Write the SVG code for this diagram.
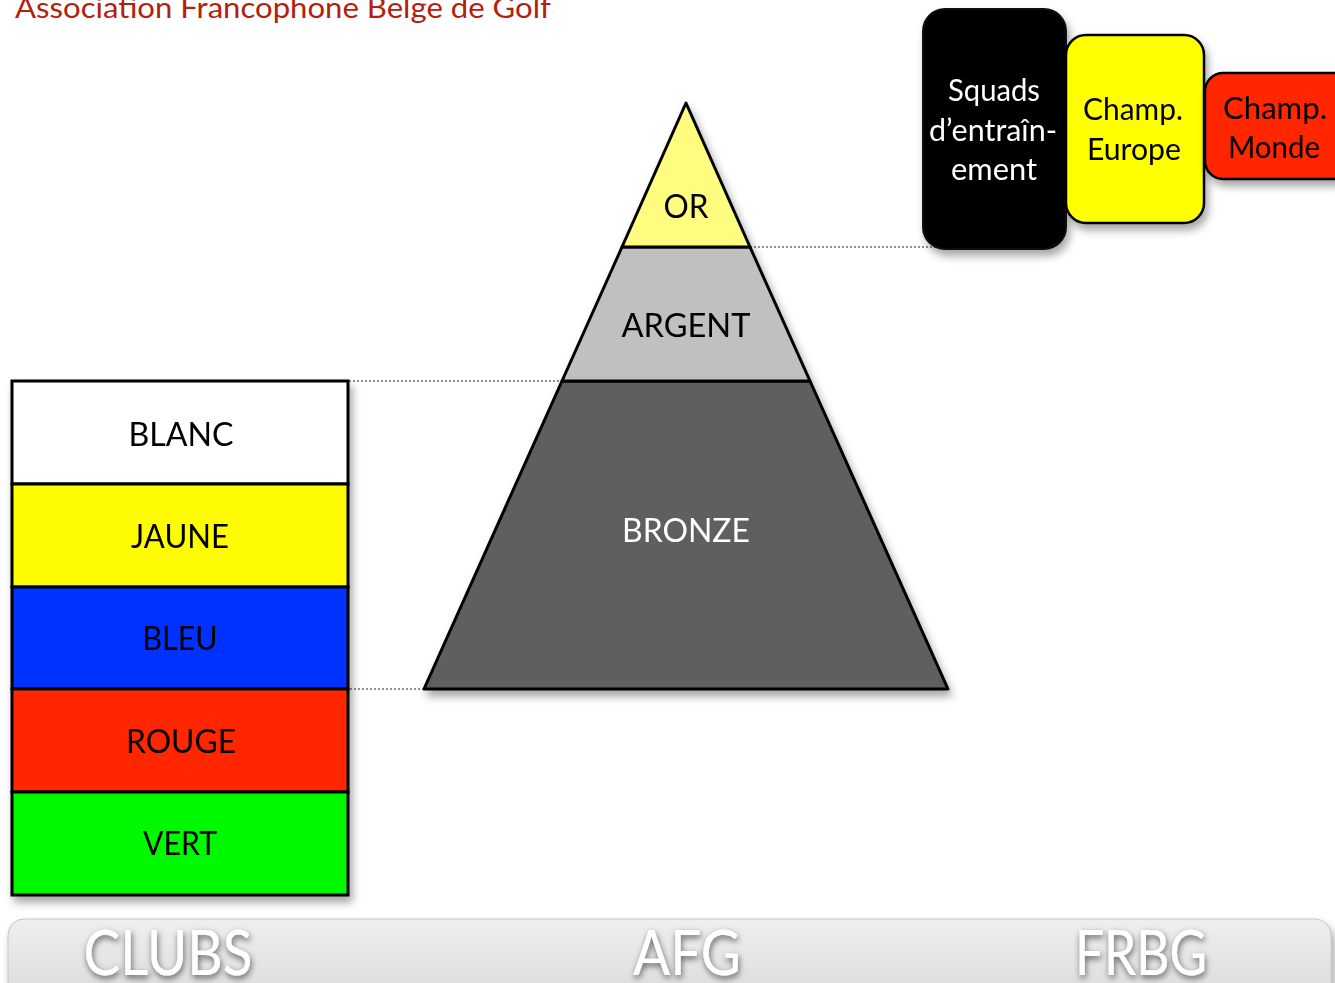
<svg xmlns="http://www.w3.org/2000/svg" width="1335" height="983" viewBox="0 0 1335 983">
<defs>
<style>
text{font-family:Lato,"Open Sans","Liberation Sans",sans-serif;}
.lbl{font-size:32px;fill:#000;text-anchor:middle;}
.wlbl{font-size:32px;fill:#fff;text-anchor:middle;}
.box{font-size:30px;text-anchor:middle;}
.band{stroke:#000;stroke-width:3;}
.dot{stroke:#222;stroke-width:1.2;stroke-dasharray:2 2;fill:none;}
.bar{font-size:62px;fill:#fff;text-anchor:middle;filter:url(#tsh);}
</style>
<filter id="sh" x="-20%" y="-20%" width="140%" height="140%">
<feDropShadow dx="3" dy="6" stdDeviation="4" flood-color="#000" flood-opacity="0.35"/>
</filter>
<filter id="tsh" x="-20%" y="-30%" width="140%" height="160%">
<feDropShadow dx="1" dy="3" stdDeviation="3" flood-color="#000" flood-opacity="0.6"/>
</filter>
<linearGradient id="barg" x1="0" y1="0" x2="0" y2="1">
<stop offset="0" stop-color="#efefef"/>
<stop offset="1" stop-color="#d6d6d6"/>
</linearGradient>
</defs>
<rect width="1335" height="983" fill="#fff"/>

<g id="title">
<text x="15" y="18" font-size="29" fill="#b3200e" textLength="536" lengthAdjust="spacingAndGlyphs">Association Francophone Belge de Golf</text>
</g>

<g id="connectors">
<line class="dot" x1="750" y1="247" x2="936" y2="247"/>
<line class="dot" x1="329" y1="381" x2="563" y2="381"/>
<line class="dot" x1="350" y1="689" x2="424" y2="689"/>
</g>

<g id="pyramid" filter="url(#sh)">
<g id="bronze">
<polygon class="band" points="562,381 810,381 948,689 424,689" fill="#5e5e5e" stroke-linejoin="round"/>
<text class="wlbl" x="686" y="542" textLength="128" lengthAdjust="spacingAndGlyphs">BRONZE</text>
</g>
<g id="argent">
<polygon class="band" points="622,247 750,247 810,381 562,381" fill="#c0c0c0" stroke-linejoin="round"/>
<text class="lbl" x="686" y="337" textLength="129" lengthAdjust="spacingAndGlyphs">ARGENT</text>
</g>
<g id="or">
<polygon class="band" points="686,103 750,247 622,247" fill="#fefd7f" stroke-linejoin="round"/>
<text class="lbl" x="686" y="218" textLength="45" lengthAdjust="spacingAndGlyphs">OR</text>
</g>
</g>

<g id="clubs-stack" filter="url(#sh)">
<g id="blanc">
<rect class="band" x="12" y="381" width="336" height="103" fill="#ffffff"/>
<text class="lbl" x="181" y="446" textLength="105" lengthAdjust="spacingAndGlyphs">BLANC</text>
</g>
<g id="jaune">
<rect class="band" x="12" y="484" width="336" height="103" fill="#fffb00"/>
<text class="lbl" x="180" y="548" textLength="98" lengthAdjust="spacingAndGlyphs">JAUNE</text>
</g>
<g id="bleu">
<rect class="band" x="12" y="587" width="336" height="102" fill="#0433ff"/>
<text class="lbl" x="180" y="650" textLength="75" lengthAdjust="spacingAndGlyphs">BLEU</text>
</g>
<g id="rouge">
<rect class="band" x="12" y="689" width="336" height="103" fill="#ff2600"/>
<text class="lbl" x="181" y="753" textLength="110" lengthAdjust="spacingAndGlyphs">ROUGE</text>
</g>
<g id="vert">
<rect class="band" x="12" y="792" width="336" height="103" fill="#00f900"/>
<text class="lbl" x="180" y="855" textLength="74" lengthAdjust="spacingAndGlyphs">VERT</text>
</g>
</g>

<g id="squads" filter="url(#sh)">
<rect x="923" y="9" width="143" height="240" rx="22" fill="#000" stroke="#111" stroke-width="2"/>
<text class="box" fill="#fff" x="994" y="101" textLength="92" lengthAdjust="spacingAndGlyphs">Squads</text>
<text class="box" fill="#fff" x="993" y="141" textLength="128" lengthAdjust="spacingAndGlyphs">d’entraîn-</text>
<text class="box" fill="#fff" x="994" y="180" textLength="86" lengthAdjust="spacingAndGlyphs">ement</text>
</g>

<g id="champ-europe" filter="url(#sh)">
<rect x="1066" y="35" width="138" height="188" rx="20" fill="#ffff00" stroke="#000" stroke-width="2.5"/>
<text class="box" fill="#000" x="1133" y="120" textLength="100" lengthAdjust="spacingAndGlyphs">Champ.</text>
<text class="box" fill="#000" x="1134" y="160" textLength="94" lengthAdjust="spacingAndGlyphs">Europe</text>
</g>

<g id="champ-monde" filter="url(#sh)">
<rect x="1205" y="73" width="150" height="106" rx="18" fill="#ff2600" stroke="#000" stroke-width="2.5"/>
<text class="box" fill="#000" x="1275" y="119" textLength="104" lengthAdjust="spacingAndGlyphs">Champ.</text>
<text class="box" fill="#000" x="1274" y="158" textLength="92" lengthAdjust="spacingAndGlyphs">Monde</text>
</g>

<g id="bottom-bar">
<rect x="8" y="919" width="1323" height="100" rx="16" fill="url(#barg)" stroke="#c4c4c4" stroke-width="1" filter="url(#sh)"/>
<text class="bar" x="168" y="975" textLength="169" lengthAdjust="spacingAndGlyphs">CLUBS</text>
<text class="bar" x="687" y="975" textLength="108" lengthAdjust="spacingAndGlyphs">AFG</text>
<text class="bar" x="1141" y="975" textLength="132" lengthAdjust="spacingAndGlyphs">FRBG</text>
</g>
</svg>
